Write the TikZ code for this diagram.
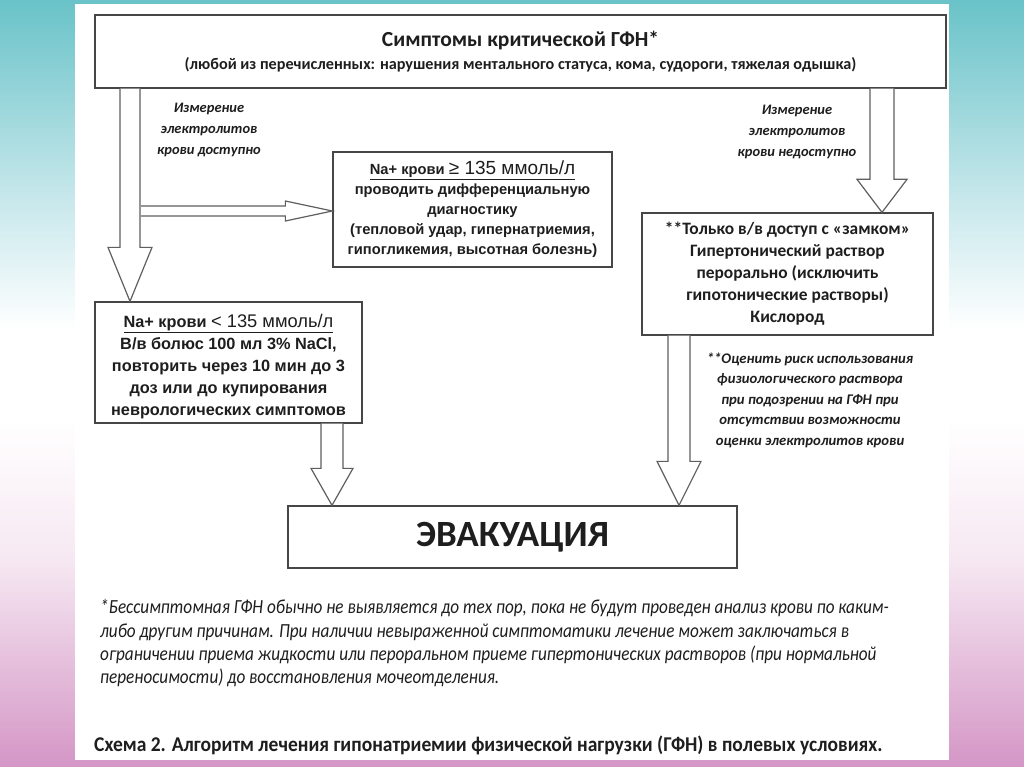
\documentclass[tikz,border=0pt]{standalone}
\usepackage{fontspec}
\setmainfont{Carlito}
\newfontfamily\arialf{Liberation Sans}
\newfontfamily\footf[FakeStretch=0.86]{Carlito}
\newfontfamily\capf[FakeStretch=0.93]{Carlito}
\usetikzlibrary{calc}
\definecolor{boxline}{RGB}{70,70,70}
\definecolor{arrline}{RGB}{95,95,95}
\definecolor{txt}{RGB}{30,30,30}
\definecolor{teal1}{RGB}{105,195,200}
\definecolor{teal2}{RGB}{200,232,236}
\definecolor{pink1}{RGB}{246,232,242}
\definecolor{pink2}{RGB}{212,150,198}
\newcommand\hollowdown[5]{%
  \draw[arrowshape] let \p1=(#1), \p2=(#2) in
    (\x1-#3,\y1) -- (\x1-#3,\y2+#5) -- (\x1-#4,\y2+#5) -- (\x1,\y2)
    -- (\x1+#4,\y2+#5) -- (\x1+#3,\y2+#5) -- (\x1+#3,\y1);}
\newcommand\hollowright[5]{%
  \draw[arrowshape] let \p1=(#1), \p2=(#2) in
    (\x1,\y1+#3) -- (\x2-#5,\y1+#3) -- (\x2-#5,\y1+#4) -- (\x2,\y1)
    -- (\x2-#5,\y1-#4) -- (\x2-#5,\y1-#3) -- (\x1,\y1-#3);}
\begin{document}
\begin{tikzpicture}[x=1pt,y=-1pt,
  box/.style={draw=boxline,line width=1.3pt,fill=white,inner sep=0pt,align=center,text=txt},
  arrowshape/.style={draw=arrline,line width=1.2pt,fill=white,line join=miter},
  lbl/.style={font=\bfseries\itshape\fontsize{14.5}{21}\selectfont,align=center,text=txt,inner sep=0pt},
  foot/.style={font=\footf\itshape\fontsize{20}{20}\selectfont,anchor=west,inner sep=0pt,text=txt}]
\useasboundingbox (0,0) rectangle (1024,767);
% background
\shade[top color=teal1,bottom color=teal2] (0,0) rectangle (1024,200);
\shade[top color=teal2,bottom color=white] (0,200) rectangle (1024,330);
\fill[white] (0,330) rectangle (1024,420);
\shade[top color=white,bottom color=pink1] (0,420) rectangle (1024,560);
\shade[top color=pink1,bottom color=pink2] (0,560) rectangle (1024,767);
\fill[white] (75,4) rectangle (949,760);
% boxes
\node[box,minimum width=851pt,minimum height=73pt] (top) at (520.5,51.5)
  {{\bfseries\fontsize{21.5}{26}\selectfont Симптомы критической ГФН*}\\[7pt]
   {\bfseries\fontsize{16.2}{18}\selectfont (любой из перечисленных: нарушения ментального статуса, кома, судороги, тяжелая одышка)}};
\node[box,minimum width=279pt,minimum height=115pt,font=\arialf\bfseries\fontsize{14.7}{20}\selectfont] (hi) at (472.5,209.5)
  {\underline{Na+ крови {\fontsize{19}{20}\selectfont\mdseries ≥ 135 ммоль/л}}\\
   проводить дифференциальную\\ диагностику\\ (тепловой удар, гипернатриемия,\\ гипогликемия, высотная болезнь)};
\node[box,minimum width=291pt,minimum height=122pt,font=\bfseries\fontsize{17.4}{22}\selectfont] (noel) at (787.5,274)
  {**Только в/в доступ с «замком»\\ Гипертонический раствор\\ перорально (исключить\\ гипотонические растворы)\\ Кислород};
\node[box,minimum width=267pt,minimum height=121pt,font=\arialf\bfseries\fontsize{16.3}{22}\selectfont] (lo) at (228.5,362.5)
  {\rule{0pt}{21pt}\underline{Na+ крови {\fontsize{18.3}{22}\selectfont\mdseries < 135 ммоль/л}}\\
   В/в болюс 100 мл 3\% NaCl,\\ повторить через 10 мин до 3\\ доз или до купирования\\ неврологических симптомов};
\node[box,minimum width=449pt,minimum height=62pt,font=\bfseries\fontsize{37}{40}\selectfont] (evac) at (512.5,537) {ЭВАКУАЦИЯ};
% arrow labels
\node[lbl] (lblL) at (209,130) {Измерение\\ электролитов\\ крови доступно};
\node[lbl] (lblR) at (797,132) {Измерение\\ электролитов\\ крови недоступно};
\node[lbl,font=\bfseries\itshape\fontsize{14.7}{20.5}\selectfont] (lblN) at (810,400)
  {**Оценить риск использования\\ физиологического раствора\\ при подозрении на ГФН при\\ отсутствии возможности\\ оценки электролитов крови};
% arrows
\coordinate (aLs) at (top.south -| 130,0);
\coordinate (aLe) at (lo.north -| 130,0);
\hollowdown{aLs}{aLe}{10pt}{22pt}{54pt}
\coordinate (aHs) at (141,211);
\coordinate (aHe) at (hi.west |- 0,211);
\hollowright{aHs}{aHe}{5pt}{10pt}{47pt}
\coordinate (aRs) at (top.south -| 882,0);
\coordinate (aRe) at (noel.north -| 882,0);
\hollowdown{aRs}{aRe}{12pt}{25pt}{33pt}
\coordinate (aL2s) at (lo.south -| 332,0);
\coordinate (aL2e) at (evac.north -| 332,0);
\hollowdown{aL2s}{aL2e}{11pt}{21pt}{37pt}
\coordinate (aR2s) at (noel.south -| 679,0);
\coordinate (aR2e) at (evac.north -| 679,0);
\hollowdown{aR2s}{aR2e}{11pt}{22pt}{44pt}
% footnote
\node[foot] (f1) at (100,608) {*Бессимптомная ГФН обычно не выявляется до тех пор, пока не будут проведен анализ крови по каким-};
\node[foot] (f2) at (100,632) {либо другим причинам. При наличии невыраженной симптоматики лечение может заключаться в};
\node[foot] (f3) at (100,655) {ограничении приема жидкости или пероральном приеме гипертонических растворов (при нормальной};
\node[foot] (f4) at (100,678) {переносимости) до восстановления мочеотделения.};
\node[anchor=west,inner sep=0pt,text=txt,font=\capf\bfseries\fontsize{21}{21}\selectfont] (cap) at (94,745)
  {Схема 2. Алгоритм лечения гипонатриемии физической нагрузки (ГФН) в полевых условиях.};
\end{tikzpicture}
\end{document}
